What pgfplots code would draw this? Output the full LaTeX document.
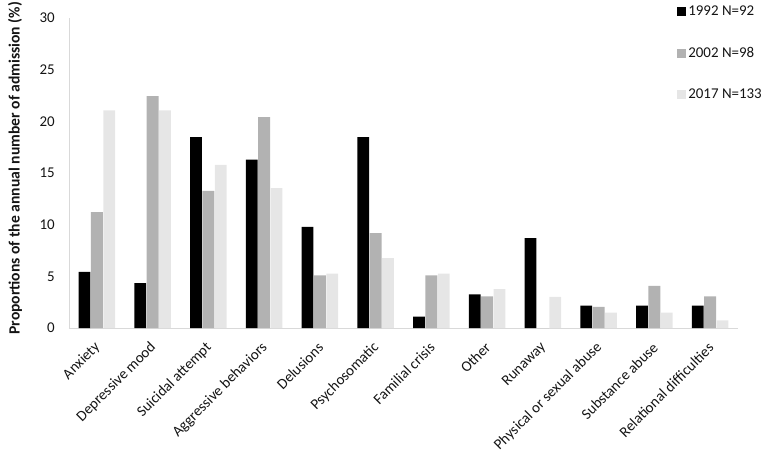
\documentclass[border=0pt]{standalone}
\usepackage{fontspec}
\setmainfont{Carlito}
\usepackage{pgfplots}
\pgfplotsset{compat=1.18}
\definecolor{axgray}{RGB}{217,217,217}
\definecolor{midgray}{RGB}{178,178,178}
\definecolor{lightgray}{RGB}{230,230,230}
\definecolor{txt}{RGB}{20,20,20}
\begin{document}
\begin{tikzpicture}
\path[use as bounding box] (-69bp,-133bp) rectangle (703bp,328bp);
\begin{axis}[
  scale only axis,
  width=669bp, height=310bp,
  ybar=0.6bp, bar width=11.8bp,
  xmin=-0.5, xmax=11.5,
  ymin=0, ymax=30,
  ytick={0,5,...,30},
  xtick={0,...,11},
  xticklabels={Anxiety,Depressive mood,Suicidal attempt,Aggressive behaviors,Delusions,Psychosomatic,Familial crisis,Other,Runaway,Physical or sexual abuse,Substance abuse,Relational difficulties},
  axis x line=bottom, axis y line=left,
  axis line style={draw=axgray, line width=0.8bp, -},
  major tick length=0pt,
  /pgf/number format/assume math mode=true,
  tick label style={font=\fontsize{15}{17}\selectfont, text=txt},
  yticklabel style={inner sep=0pt, xshift=-14bp, anchor=east},
  xticklabel style={xshift=1bp, yshift=-17bp, rotate=45, anchor=east, inner sep=0pt},
  ylabel={Proportions of the annual number of admission (\%)},
  ylabel style={font=\fontsize{15.7}{18}\selectfont\bfseries, text=txt, at={(axis description cs:-0.0807,0.515)}, anchor=center, rotate=0},
  legend style={draw=none, fill=none, at={(rel axis cs:0.909,1.045)}, anchor=north west,
     font=\fontsize{15}{17}\selectfont, text=txt, row sep=26bp, inner sep=0pt,
     /tikz/every even column/.append style={column sep=3bp}},
  legend cell align=left,
  legend image code/.code={\fill[#1] (0bp,-4.5bp) rectangle (9bp,4.5bp);},
  clip=false,
]
\addplot[fill=black, draw=none] coordinates {(0,5.43) (1,4.35) (2,18.48) (3,16.30) (4,9.78) (5,18.48) (6,1.09) (7,3.26) (8,8.70) (9,2.17) (10,2.17) (11,2.17)};
\addplot[fill=midgray, draw=none] coordinates {(0,11.22) (1,22.45) (2,13.27) (3,20.41) (4,5.10) (5,9.18) (6,5.10) (7,3.06) (8,0) (9,2.04) (10,4.08) (11,3.06)};
\addplot[fill=lightgray, draw=none] coordinates {(0,21.05) (1,21.05) (2,15.79) (3,13.53) (4,5.26) (5,6.77) (6,5.26) (7,3.76) (8,3.01) (9,1.50) (10,1.50) (11,0.75)};
\legend{1992 N=92, 2002 N=98, 2017 N=133}
\end{axis}
\end{tikzpicture}
\end{document}
